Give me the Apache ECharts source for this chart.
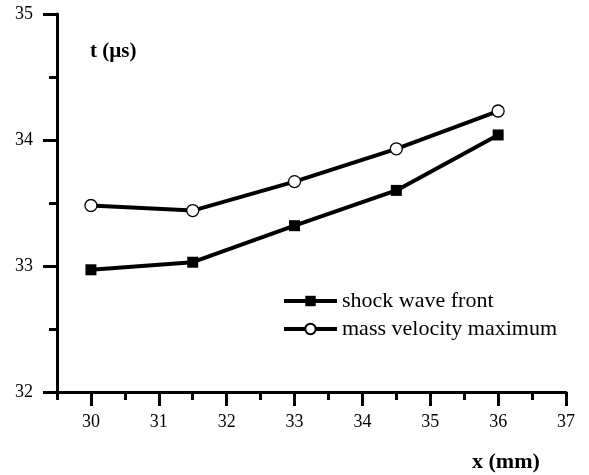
<!DOCTYPE html>
<html>
<head>
<meta charset="utf-8">
<script src="https://cdn.jsdelivr.net/npm/echarts@6/dist/echarts.min.js"></script>
<style>
html,body{margin:0;padding:0;background:#fff;}
#c{width:589px;height:475px;}
</style>
</head>
<body>
<div id="c"></div>
<script>
// Data
const xPositions = [30, 31.5, 33, 34.5, 36];
const shockWaveFront = [32.97, 33.03, 33.32, 33.60, 34.04];
const massVelocityMax = [33.48, 33.44, 33.67, 33.93, 34.23];
const xTickLabels = [30, 31, 32, 33, 34, 35, 36, 37];
const yTickLabels = [32, 33, 34, 35];
const seriesNames = ['shock wave front', 'mass velocity maximum'];
const xTitle = 'x (mm)';
const yTitle = 't (\u00b5s)';

const FONT = '"Liberation Serif", "Times New Roman", serif';
const pairs = (ys) => xPositions.map((x, i) => [x, ys[i]]);

const chart = echarts.init(document.getElementById('c'), null, {renderer: 'canvas'});
chart.setOption({
  backgroundColor: '#fff',
  animation: false,
  grid: {left: 57, right: 23, top: 14, bottom: 83, containLabel: false},
  xAxis: [{
    type: 'value', min: 29.5, max: 37, interval: 0.5,
    splitLine: {show: false},
    axisLine: {show: true, onZero: false, lineStyle: {color: '#000', width: 3}},
    axisTick: {show: true, inside: false, length: 14, customValues: xTickLabels, lineStyle: {color: '#000', width: 3}},
    axisLabel: {show: true, customValues: xTickLabels, margin: 21, color: '#000', fontSize: 18, fontFamily: FONT}
  }, {
    type: 'value', min: 29.5, max: 37, interval: 0.5, position: 'bottom',
    splitLine: {show: false},
    axisLine: {show: false, onZero: false},
    axisTick: {show: true, inside: false, length: 8, lineStyle: {color: '#000', width: 3}},
    axisLabel: {show: false}
  }],
  yAxis: [{
    type: 'value', min: 32, max: 35, interval: 1,
    splitLine: {show: false},
    axisLine: {show: true, onZero: false, lineStyle: {color: '#000', width: 3}},
    axisTick: {show: true, inside: false, length: 14, lineStyle: {color: '#000', width: 3}},
    minorTick: {show: true, splitNumber: 2, length: 8, lineStyle: {color: '#000', width: 3}},
    minorSplitLine: {show: false},
    axisLabel: {show: true, margin: 24, color: '#000', fontSize: 18, fontFamily: FONT,
      formatter: (v) => yTickLabels.includes(v) ? String(v) : ''}
  }],
  legend: {
    orient: 'vertical', left: 277, top: 285, padding: 5,
    itemWidth: 53, itemHeight: 13, itemGap: 6,
    lineStyle: {width: 4, color: '#000'},
    textStyle: {color: '#000', fontSize: 22, fontFamily: FONT},
    data: seriesNames
  },
  graphic: [
    {type: 'text', left: 90, top: 41, style: {text: yTitle, fill: '#000', font: 'bold 21px ' + FONT}},
    {type: 'text', left: 472, top: 451, style: {text: xTitle, fill: '#000', font: 'bold 22px ' + FONT}}
  ],
  series: [{
    name: seriesNames[0], type: 'line', xAxisIndex: 0, yAxisIndex: 0,
    data: pairs(shockWaveFront),
    symbol: 'rect', symbolSize: 11,
    lineStyle: {color: '#000', width: 4},
    itemStyle: {color: '#000', borderColor: '#000', borderWidth: 0}
  }, {
    name: seriesNames[1], type: 'line', xAxisIndex: 0, yAxisIndex: 0,
    data: pairs(massVelocityMax),
    symbol: 'circle', symbolSize: 12,
    lineStyle: {color: '#000', width: 4},
    itemStyle: {color: '#fff', borderColor: '#000', borderWidth: 1.3}
  }]
});
</script>
</body>
</html>
